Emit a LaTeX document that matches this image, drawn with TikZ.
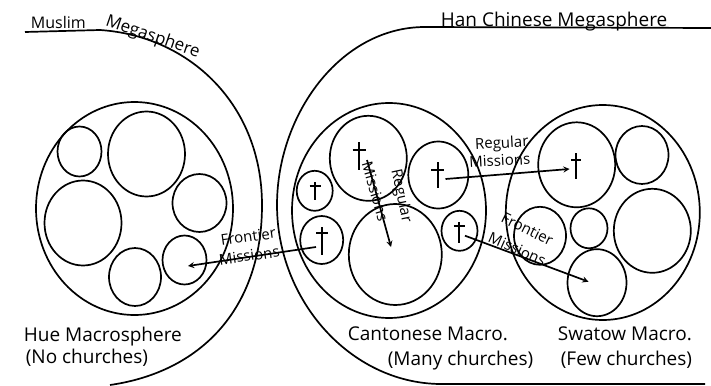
\documentclass[tikz,border=0pt]{standalone}
\usepackage{fontspec}
\setmainfont{Open Sans}
\usetikzlibrary{shapes.geometric}
\tikzset{
	sphere/.style={draw,ellipse,inner sep=0pt,outer sep=0pt},
	hand/.style={inner sep=0pt,font=\fontsize{19}{19}\selectfont,anchor=base west},
	small hand/.style={inner sep=0pt,font=\fontsize{15}{15}\selectfont,anchor=base},
}
\begin{document}
\begin{tikzpicture}[x=1pt,y=-1pt,line width=1.7pt,>=stealth]

		\useasboundingbox (0,0) rectangle (711,385);

		% megaspheres
		\draw (25,32) -- (100,30) .. controls (190,36) and (262,105) .. (262,205)
			.. controls (262,310) and (200,372) .. (110,385);
		\draw (711,28) -- (425,27) .. controls (340,27) and (277,115) .. (277,205)
			.. controls (277,300) and (350,383) .. (440,384) -- (705,384);

		% macrospheres
		\foreach \n/\x/\y/\a/\b in {hue/134.5/208.5/197/213,canton/389/210.5/194/215,swatow/602.8/212.5/194/215}
			\node[sphere,minimum width=\a pt,minimum height=\b pt] (\n) at (\x,\y) {};

		% hue circles
		\foreach \n/\x/\y/\a/\b in {hueA/79.5/151.5/44/50,hueB/146.5/154/77/85,hueC/83/223/77/85,
			hueD/199.5/203/54/58,hueE/184.5/260/44/49,hueF/135/277/52/58}
			\node[sphere,minimum width=\a pt,minimum height=\b pt] (\n) at (\x,\y) {};

		% cantonese circles
		\foreach \n/\x/\y/\a/\b in {canA/368.3/158.3/77/85,canB/438.3/175/60/67,canC/314.7/190.8/36/40,
			canD/321.7/240/43/48,canE/395.3/254.5/93/101,canF/459.5/230.8/36/40}
			\node[sphere,minimum width=\a pt,minimum height=\b pt] (\n) at (\x,\y) {};

		% swatow circles
		\foreach \n/\x/\y/\a/\b in {swaA/576.7/164.8/77/85,swaB/642/155/53/58,swaC/652.3/230.8/77/84,
			swaD/589/228.3/37/40,swaE/540/235.8/52/58,swaF/597/282.7/59/67}
			\node[sphere,minimum width=\a pt,minimum height=\b pt] (\n) at (\x,\y) {};

		% churches
		\foreach \x/\t/\b/\c/\w in {359/142/170/150/6.5,437.7/162/188/170/6.5,315/182/200/186/5.5,
			322/227/255/233/6,459.3/222/243/226/5.5,576/153/179/160/5}
		{
			\draw (\x,\t) -- (\x,\b);
			\draw ({\x-\w},\c) -- ({\x+\w},\c);
		}

		% missions
		\coordinate (frontA) at (316,247);
		\coordinate (frontB) at (188,266);
		\coordinate (regA) at (445.5,179);
		\coordinate (regB) at (569.5,169);
		\coordinate (frontC) at (465,235.7);
		\coordinate (frontD) at (588.5,281.7);
		\coordinate (regC) at (367,160);
		\coordinate (regD) at (391,247);
		\draw[->] (frontA) -- (frontB);
		\draw[->] (regA) -- (regB);
		\draw[->] (frontC) -- (frontD);
		\draw[->] (regC) -- (regD);

		% titles
		\node[hand,font=\fontsize{16}{16}\selectfont] (muslim) at (30,29) {Muslim};
		\node[hand,font=\fontsize{17}{17}\selectfont,rotate=-19] (mega) at (104,25) {Megasphere};
		\node[hand] (han) at (440,27) {Han Chinese Megasphere};

		% captions
		\node[hand] (hueT) at (23,341) {Hue Macrosphere};
		\node[hand] (hueU) at (25,363) {(No churches)};
		\node[hand] (canT) at (347,340) {Cantonese Macro.};
		\node[hand] (canU) at (387,365) {(Many churches)};
		\node[hand] (swaT) at (557,340) {Swatow Macro.};
		\node[hand] (swaU) at (560,365) {(Few churches)};

		% arrow labels
		\node[small hand,rotate=8] (labA) at (249,242) {Frontier};
		\node[small hand,rotate=8] (labB) at (250,261) {Missions};
		\node[small hand,rotate=3] (labC) at (502,148) {Regular};
		\node[small hand,rotate=3] (labD) at (500,166) {Missions};
		\node[small hand,rotate=-26] (labE) at (525,234) {Frontier};
		\node[small hand,rotate=-24] (labF) at (515,254) {Missions};
		\node[small hand,rotate=-74] (labG) at (370,193) {Missions};
		\node[small hand,rotate=-78] (labH) at (397,197) {Regular};

		\end{tikzpicture}
\end{document}
